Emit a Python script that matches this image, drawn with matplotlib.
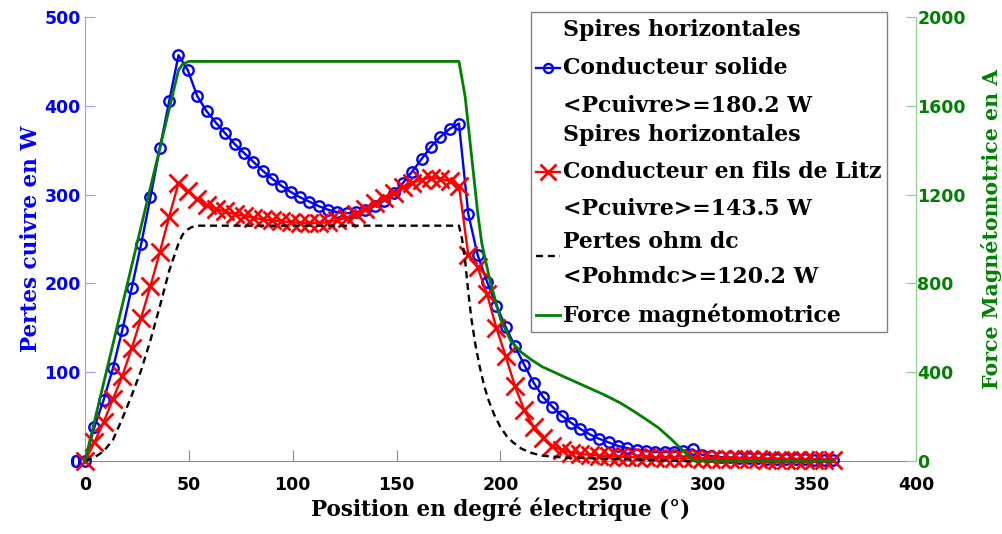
import numpy as np
import matplotlib
matplotlib.use("Agg")
import matplotlib.pyplot as plt
from matplotlib.lines import Line2D
from matplotlib.patches import Rectangle

# ---------------- data ----------------
step = 4.5
positions = np.arange(0, 360 + step / 2, step)

solid_losses = [0, 38, 69, 105, 148, 195, 244, 297, 352, 405, 457,
                440, 411, 394, 381, 369, 357, 347, 337, 327, 318,
                310, 303, 297, 292, 287, 283, 280, 279, 280, 283,
                287, 293, 302, 313, 326, 340, 354, 365, 374, 380,
                278, 232, 202, 175, 151, 129, 108, 88, 72, 61,
                51, 43, 36, 30, 25, 21, 17, 14.5, 12.5, 11,
                10, 10, 10, 11.5, 13, 7, 5.5, 4.5, 4, 3.5,
                3, 3, 2.5, 2.5, 2, 2, 2, 1.5, 1.5, 1.5]

litz_losses = [0, 21, 44, 70, 96, 127, 161, 197, 235, 275, 313,
               304, 295, 288, 284, 281, 278, 276, 274, 272, 271,
               270, 269, 268, 268, 268, 269, 271, 274, 278, 284,
               290, 296, 302, 308, 313, 317, 319, 318, 315, 310,
               232, 218, 188, 150, 118, 84, 57, 38, 26, 17,
               12, 9.5, 8, 7, 6, 5.5, 5, 4.5, 4, 4,
               3.5, 3.5, 3, 3, 3, 2.5, 2.5, 2, 2, 2,
               2, 2, 1.5, 1.5, 1.5, 1.5, 1.5, 1.5, 1.5, 1.5]

dc_x = [0, 4.5, 9, 13.5, 18, 22.5, 27, 31.5, 36, 40.5, 45, 47, 49, 51, 54,
        180, 181.5, 183, 184.5, 186, 188, 190, 192, 194, 197, 200, 203, 206,
        210, 215, 220, 230, 245, 260, 275, 290, 360]
dc_losses = [0, 4, 11, 24, 48, 74, 102, 136, 174, 214, 245, 255, 260, 263, 265,
             265, 250, 225, 190, 160, 130, 106, 86, 70, 52, 38, 28, 21,
             14, 9, 6, 4, 3, 2, 1, 0, 0]

mmf_x = [0, 45, 47, 50, 180, 183, 186, 189, 191, 195, 200, 205, 210, 215, 220,
         230, 240, 250, 258, 264, 270, 276, 282, 288, 293, 360]
mmf = [0, 1760, 1788, 1800, 1800, 1640, 1380, 1120, 980, 810, 640, 540, 490, 455, 425,
       382, 340, 298, 260, 225, 188, 150, 100, 45, 0, 0]

x_ticks = [0, 50, 100, 150, 200, 250, 300, 350, 400]
left_ticks = [0, 100, 200, 300, 400, 500]
right_ticks = [0, 400, 800, 1200, 1600, 2000]

legend_lines = ["Spires horizontales", "Conducteur solide", "<Pcuivre>=180.2 W",
                "Spires horizontales", "Conducteur en fils de Litz", "<Pcuivre>=143.5 W",
                "Pertes ohm dc", "<Pohmdc>=120.2 W", "Force magnétomotrice"]

# ---------------- figure ----------------
W, H = 1003, 534
fig = plt.figure(figsize=(W / 100, H / 100), dpi=100)
fig.patch.set_facecolor("white")

def fx(px):
    return px / W

def fy(py):
    return 1 - py / H

ax_l, ax_r, ax_t, ax_b = 85, 916, 17, 461
ax = fig.add_axes([fx(ax_l), fy(ax_b), fx(ax_r) - fx(ax_l), fy(ax_t) - fy(ax_b)])
ax2 = ax.twinx()

BLUE = "#0000ff"
RED = "#ff0000"
GREEN = "#008000"
tick_font = dict(family="DejaVu Sans", weight="bold", size=12.5)
label_font = dict(family="DejaVu Serif", weight="bold", size=15.5)
legend_font = dict(family="DejaVu Serif", weight="bold", size=15.8)

ax.plot(positions, solid_losses, color=BLUE, lw=1.7, marker="o", ms=7.5,
        mfc="none", mew=1.7, clip_on=False, zorder=3)
ax.plot(positions, litz_losses, color=RED, lw=1.7, marker="x", ms=13,
        mew=2.0, clip_on=False, zorder=4)
ax.plot(dc_x, dc_losses, color="black", lw=1.7, ls=(0, (3, 2)), clip_on=False, zorder=5)
ax2.plot(mmf_x, mmf, color=GREEN, lw=2.0, clip_on=False, zorder=6)

ax.set_xlim(0, 400)
ax.set_ylim(0, 500)
ax2.set_ylim(0, 2000)

ax.set_xticks(x_ticks)
ax.set_yticks(left_ticks)
ax2.set_yticks(right_ticks)
ax.set_xticklabels([str(v) for v in x_ticks], fontdict=tick_font)
ax.set_yticklabels([str(v) for v in left_ticks], fontdict=tick_font, color=BLUE)
ax2.set_yticklabels([str(v) for v in right_ticks], fontdict=tick_font, color=GREEN)

for a in (ax, ax2):
    a.spines["top"].set_visible(False)
    a.patch.set_visible(False)
ax.spines["right"].set_visible(False)
ax2.spines["left"].set_visible(False)
ax2.spines["bottom"].set_visible(False)
ax.spines["left"].set_color("#9a9aff")
ax.spines["bottom"].set_color("#8c8c8c")
ax2.spines["right"].set_color("#8fd08f")

ax.tick_params(axis="y", direction="in", length=7, color="#9a9aff", pad=3)
ax.tick_params(axis="x", direction="in", length=8, color="#8c8c8c", pad=11)
ax2.tick_params(axis="y", direction="in", length=7, color="#8fd08f", pad=1)

ax.set_xlabel("Position en degré électrique (°)", fontdict=label_font, labelpad=2)
ax.set_ylabel("Pertes cuivre en W", fontdict=label_font, color=BLUE, labelpad=2)
fig.text(fx(992), fy(229), "Force Magnétomotrice en A", rotation=90, color=GREEN,
         ha="center", va="center", family="DejaVu Serif", weight="bold", size=14.8)

# ---------------- legend (manual) ----------------
fig.patches.append(Rectangle((fx(531), fy(332)), fx(887) - fx(531), fy(12) - fy(332),
                             transform=fig.transFigure, facecolor="white",
                             edgecolor="#808080", lw=1.0, zorder=10))
row_y = [30, 68, 106, 135, 172, 209, 242, 277, 315]
for txt, yy in zip(legend_lines, row_y):
    fig.text(fx(563), fy(yy), txt, ha="left", va="center", zorder=11, **legend_font)

def handle(yy, **kw):
    fig.add_artist(Line2D([fx(536), fx(560)], [fy(yy), fy(yy)], transform=fig.transFigure,
                          zorder=11, **kw))

handle(68, color=BLUE, lw=1.7)
fig.add_artist(Line2D([fx(548)], [fy(68)], transform=fig.transFigure, marker="o", ms=6.5,
                      mfc="none", mec=BLUE, mew=1.7, zorder=11))
handle(172, color=RED, lw=1.7)
fig.add_artist(Line2D([fx(548)], [fy(172)], transform=fig.transFigure, marker="x", ms=12,
                      mec=RED, mew=2.0, zorder=11))
handle(256, color="black", lw=1.7, ls=(0, (3, 2)))
handle(315, color=GREEN, lw=2.0)

fig.savefig("out.png", dpi=100)
